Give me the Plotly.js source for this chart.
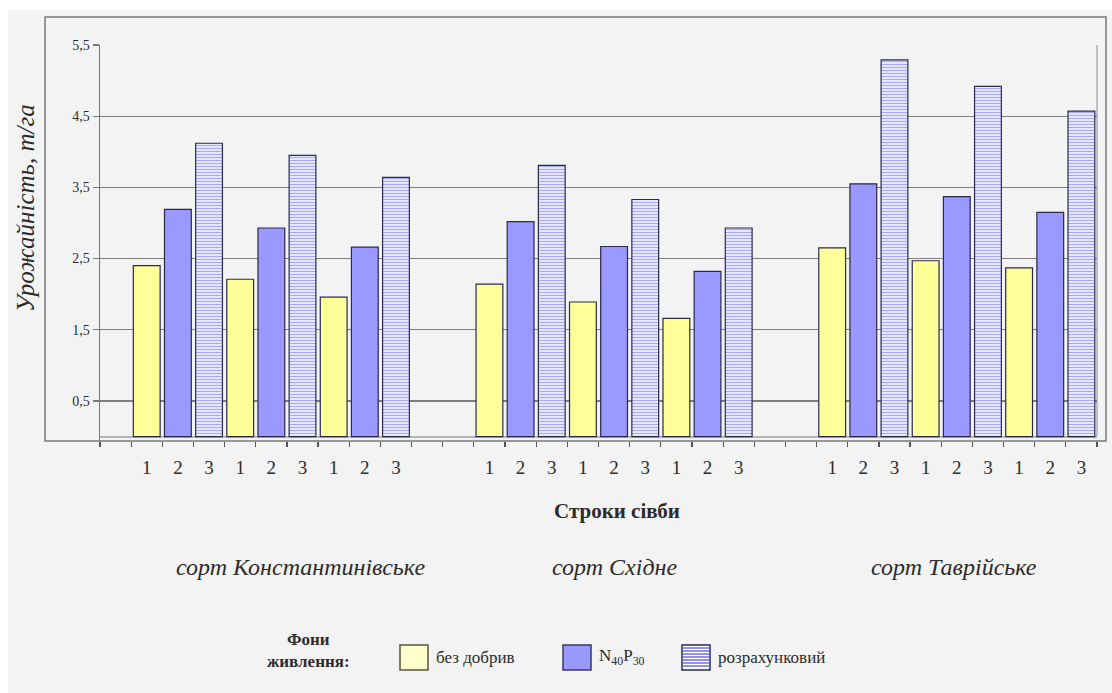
<!DOCTYPE html>
<html>
<head>
<meta charset="utf-8">
<script src="https://cdn.plot.ly/plotly-3.0.1.min.js"></script>
<style>
  html, body { margin: 0; padding: 0; background: #ffffff; }
  #chart { width: 1112px; height: 693px; }
</style>
</head>
<body>
<div id="chart"></div>
<script>
// ---- data ----
const varieties = ['сорт Константинівське', 'сорт Східне', 'сорт Таврійське'];
const sowingDates = ['1', '2', '3'];
const backgrounds = ['без добрив', 'N<sub>40</sub>P<sub>30</sub>', 'розрахунковий'];
// values ordered: variety 1 (dates 1..3), variety 2 (dates 1..3), variety 3 (dates 1..3)
const bezDobryv      = [2.40, 2.21, 1.96, 2.14, 1.89, 1.66, 2.65, 2.47, 2.37];
const n40p30         = [3.19, 2.93, 2.66, 3.02, 2.67, 2.32, 3.55, 3.37, 3.15];
const rozrakhunkovyi = [4.12, 3.95, 3.64, 3.81, 3.33, 2.93, 5.29, 4.92, 4.57];
const tickLabels = ['1', '2', '3'];
const yTicks = [0.5, 1.5, 2.5, 3.5, 4.5, 5.5];
const yTitle = 'Урожайність, т/га';
const xTitle = 'Строки сівби';
const legendTitle = 'Фони<br>живлення:';

// ---- layout helpers (pixel -> paper) ----
const L = 100, R = 1097, T = 45, B = 441;
const W = R - L, H = B - T;
const px = v => (v - L) / W;
const py = v => (B - v) / H;

const seriesVals = [bezDobryv, n40p30, rozrakhunkovyi];
const nDates = sowingDates.length, nBg = backgrounds.length;
const groupSlots = nDates * nBg;
const gapSlots = 2;
function slotOf(v, d, b) { return 1 + v * (groupSlots + gapSlots) + d * nBg + b; }

const fills = ['#ffff99', '#9999ff', '#eeeeff'];
const traces = [];
for (let b = 0; b < nBg; b++) {
  const xs = [], ys = [];
  for (let v = 0; v < varieties.length; v++) {
    for (let d = 0; d < nDates; d++) {
      xs.push(slotOf(v, d, b));
      ys.push(seriesVals[b][v * nDates + d]);
    }
  }
  const marker = {
    color: fills[b],
    line: { color: '#2a2a4a', width: 1.2 }
  };
  if (b === 2) {
    marker.pattern = { shape: '-', fgcolor: '#a8a8ff', bgcolor: '#f4f4ff', size: 3, solidity: 0.45, fillmode: 'replace' };
  }
  traces.push({
    type: 'bar', name: backgrounds[b], x: xs, y: ys,
    width: 0.86, marker: marker, showlegend: false, hoverinfo: 'y'
  });
}

// tick positions/labels
const tickVals = [], tickText = [];
for (let v = 0; v < varieties.length; v++)
  for (let d = 0; d < nDates; d++)
    for (let b = 0; b < nBg; b++) { tickVals.push(slotOf(v, d, b)); tickText.push(tickLabels[b]); }
const lastSlot = slotOf(varieties.length - 1, nDates - 1, nBg - 1);

const serif = '"Liberation Serif", "Times New Roman", "DejaVu Serif", serif';
const txt = '#2b2b2b';

const shapes = [
  // gray chart background (white strip at top/left)
  { type: 'rect', xref: 'paper', yref: 'paper', x0: px(8), x1: px(1112), y0: py(10), y1: py(693),
    fillcolor: '#f3f3f3', line: { width: 0 }, layer: 'below' },
  // outer plot-area frame
  { type: 'rect', xref: 'paper', yref: 'paper', x0: px(45), x1: px(1106), y0: py(17), y1: py(441),
    fillcolor: 'rgba(0,0,0,0)', line: { color: '#7a7a7a', width: 1.5 }, layer: 'above' },
  // right inner wall
  { type: 'line', xref: 'paper', yref: 'paper', x0: 1, x1: 1, y0: py(436), y1: 1,
    line: { color: '#b0b0b0', width: 1.5 }, layer: 'below' },
  // floor line
  { type: 'line', xref: 'paper', yref: 'paper', x0: 0, x1: 1, y0: py(437), y1: py(437),
    line: { color: '#a0a0a0', width: 1.5 }, layer: 'below' }
];

const annotations = [
  { text: yTitle, xref: 'paper', yref: 'paper', x: px(25), y: py(208), textangle: -90,
    xanchor: 'center', yanchor: 'middle',
    showarrow: false, font: { family: serif, size: 25, color: txt, style: 'italic' } },
  { text: '<b>' + xTitle + '</b>', xref: 'paper', yref: 'paper', x: px(617), y: py(511),
    xanchor: 'center', yanchor: 'middle',
    showarrow: false, font: { family: serif, size: 21, color: txt } }
];
const varietyX = [300, 614, 954];
varieties.forEach((name, i) => annotations.push({
  text: name, xref: 'paper', yref: 'paper', x: px(varietyX[i]), y: py(567),
  xanchor: 'center', yanchor: 'middle',
  showarrow: false, font: { family: serif, size: 24, color: txt, style: 'italic' }
}));
annotations.push({ text: '<b>' + legendTitle + '</b>', xref: 'paper', yref: 'paper', x: px(308), y: py(650),
  xanchor: 'center', yanchor: 'middle',
  showarrow: false, align: 'center', font: { family: serif, size: 17, color: txt } });

// manual legend
const swX = [400, 563, 682];
const swFill = ['#ffffcc', '#9999ff', '#ffffff'];
const swLine = ['#55553a', '#3a3a6a', '#2a2a5a'];
for (let b = 0; b < nBg; b++) {
  shapes.push({ type: 'rect', xref: 'paper', yref: 'paper', x0: px(swX[b]), x1: px(swX[b] + 28),
    y0: py(670), y1: py(645), fillcolor: swFill[b], line: { color: swLine[b], width: 1.5 }, layer: 'above' });
  annotations.push({ text: backgrounds[b], xref: 'paper', yref: 'paper', x: px(swX[b] + 34), y: py(657),
    xanchor: 'left', yanchor: 'middle', showarrow: false, font: { family: serif, size: 17, color: txt } });
}
for (let yy = 648; yy < 669; yy += 3) {
  shapes.push({ type: 'line', xref: 'paper', yref: 'paper', x0: px(swX[2] + 1), x1: px(swX[2] + 27),
    y0: py(yy), y1: py(yy), line: { color: '#6f6fe0', width: 1.5 }, layer: 'above' });
}

const layout = {
  width: 1112, height: 693,
  margin: { l: L, r: 1112 - R, t: T, b: 693 - B, pad: 0 },
  paper_bgcolor: '#ffffff', plot_bgcolor: 'rgba(0,0,0,0)',
  font: { family: serif, color: txt },
  barmode: 'overlay',
  separators: ',.',
  showlegend: false,
  xaxis: {
    range: [-0.5, lastSlot + 0.5], showgrid: false, zeroline: false,
    tickmode: 'array', tickvals: tickVals, ticktext: tickText, ticks: '',
    ticklabelstandoff: 13,
    tickfont: { family: serif, size: 19, color: txt },
    showline: false,
    minor: { tickmode: 'linear', tick0: -0.5, dtick: 1, ticks: 'outside', ticklen: 5, tickcolor: '#555', tickwidth: 1.2 },
    fixedrange: true
  },
  yaxis: {
    range: [-0.062, 5.5], tickmode: 'array', tickvals: yTicks, tickformat: '.1f',
    showgrid: true, gridcolor: '#7f7f7f', gridwidth: 1.2, zeroline: false,
    showline: true, linecolor: '#7a7a7a', linewidth: 1.5,
    ticks: 'outside', ticklen: 6, tickcolor: '#7a7a7a', tickwidth: 1.2,
    tickfont: { family: serif, size: 14, color: txt },
    fixedrange: true
  },
  shapes: shapes,
  annotations: annotations
};

Plotly.newPlot('chart', traces, layout, { displayModeBar: false, staticPlot: true });
</script>
</body>
</html>
